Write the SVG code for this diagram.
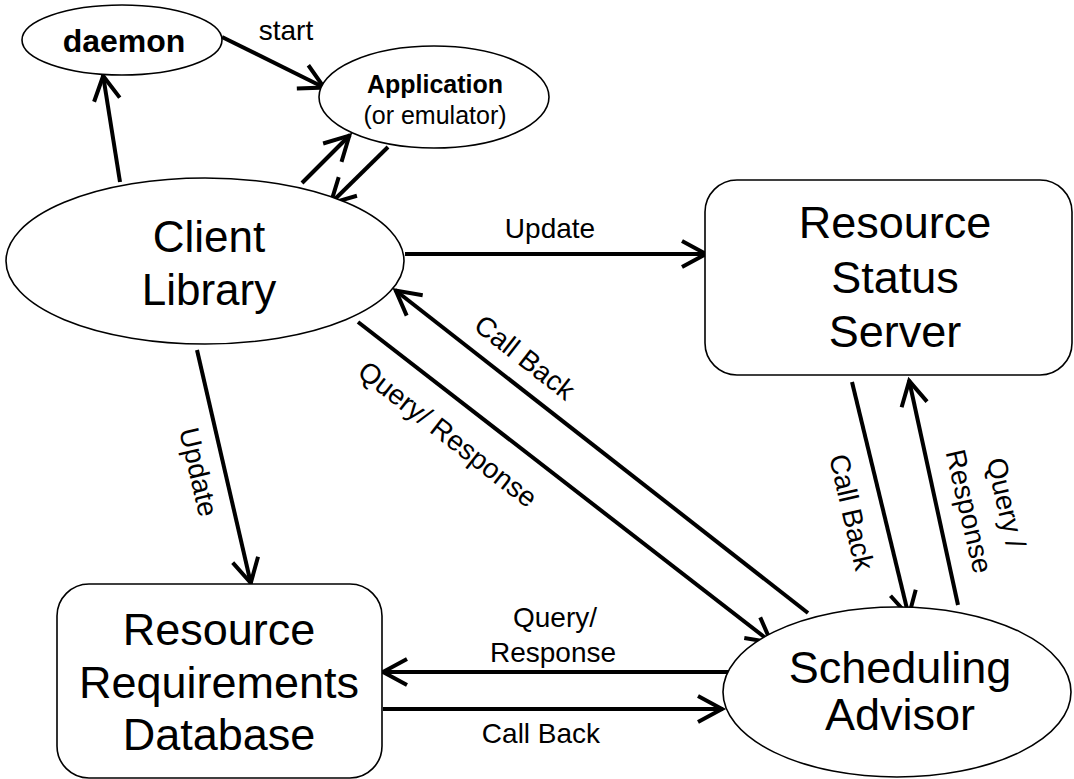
<svg xmlns="http://www.w3.org/2000/svg" width="1074" height="779" viewBox="0 0 1074 779">
<style>
  .node { fill: #fff; stroke: #000; stroke-width: 1.6; }
  .big { font-family: "Liberation Sans", Arial, sans-serif; font-size: 45px; fill: #000; text-anchor: middle; }
  .lbl { font-family: "Liberation Sans", Arial, sans-serif; font-size: 28px; fill: #000; text-anchor: middle; }
  .app { font-family: "Liberation Sans", Arial, sans-serif; font-size: 25px; fill: #000; text-anchor: middle; }
  .bold { font-weight: bold; }
  .edge { stroke: #000; stroke-width: 4; fill: none; marker-end: url(#ah); }
</style>
<defs>
  <marker id="ah" markerUnits="userSpaceOnUse" markerWidth="40" markerHeight="40" refX="0" refY="0" orient="auto" overflow="visible">
    <path d="M-25,-13 L-1,0 L-25,13" fill="none" stroke="#000" stroke-width="4" stroke-linejoin="miter"/>
  </marker>
</defs>
<rect width="1074" height="779" fill="#fff"/>

<g id="connectors">
  <line class="edge" x1="222" y1="37" x2="325" y2="88"/>
  <line class="edge" x1="120" y1="182" x2="103" y2="75"/>
  <line class="edge" x1="302" y1="183" x2="350" y2="135"/>
  <line class="edge" x1="388" y1="147" x2="330" y2="204"/>
  <line class="edge" x1="405" y1="254" x2="707" y2="254"/>
  <line class="edge" x1="197" y1="350" x2="251" y2="584"/>
  <line class="edge" x1="358" y1="322" x2="772" y2="643"/>
  <line class="edge" x1="808" y1="613" x2="395" y2="290"/>
  <line class="edge" x1="852" y1="382" x2="909" y2="617"/>
  <line class="edge" x1="958" y1="605" x2="909" y2="380"/>
  <line class="edge" x1="730" y1="672" x2="382" y2="672"/>
  <line class="edge" x1="383" y1="709" x2="723" y2="709"/>

  <text class="lbl" x="286" y="40">start</text>
  <text class="lbl" x="550" y="238">Update</text>
  <text class="lbl" transform="translate(199,472) rotate(77)" y="10">Update</text>
  <text class="lbl" transform="translate(448,434) rotate(38)" y="10">Query/ Response</text>
  <text class="lbl" transform="translate(525,357) rotate(38)" y="10">Call Back</text>
  <text class="lbl" transform="translate(852,512) rotate(77)" y="10">Call Back</text>
  <text class="lbl" transform="translate(988,507) rotate(77)"><tspan x="0" y="-9">Query /</tspan><tspan x="0" y="29">Response</tspan></text>
  <text class="lbl" x="555" y="627">Query/</text>
  <text class="lbl" x="553" y="662">Response</text>
  <text class="lbl" x="541" y="743">Call Back</text>
</g>

<g id="daemon">
  <ellipse class="node" cx="122" cy="40" rx="100" ry="35"/>
  <text class="lbl bold" style="font-size:32px" x="124" y="52">daemon</text>
</g>

<g id="application">
  <ellipse class="node" cx="434" cy="97" rx="115" ry="51"/>
  <text class="app bold" x="435" y="93">Application</text>
  <text class="app" x="435" y="124">(or emulator)</text>
</g>

<g id="client-library">
  <ellipse class="node" cx="205" cy="261" rx="199" ry="83"/>
  <text class="big" style="font-size:44px" x="209" y="252">Client</text>
  <text class="big" style="font-size:44px" x="209" y="305">Library</text>
</g>

<g id="resource-status-server">
  <rect class="node" x="705" y="180" width="367" height="195" rx="32" ry="32"/>
  <text class="big" x="895" y="238">Resource</text>
  <text class="big" x="895" y="293">Status</text>
  <text class="big" x="895" y="347">Server</text>
</g>

<g id="resource-requirements-database">
  <rect class="node" x="57" y="584" width="325" height="194" rx="32" ry="32"/>
  <text class="big" x="219" y="645">Resource</text>
  <text class="big" x="219" y="698">Requirements</text>
  <text class="big" x="219" y="750">Database</text>
</g>

<g id="scheduling-advisor">
  <ellipse class="node" cx="897" cy="692" rx="174" ry="85"/>
  <text class="big" x="900" y="683">Scheduling</text>
  <text class="big" x="900" y="730">Advisor</text>
</g>
</svg>
